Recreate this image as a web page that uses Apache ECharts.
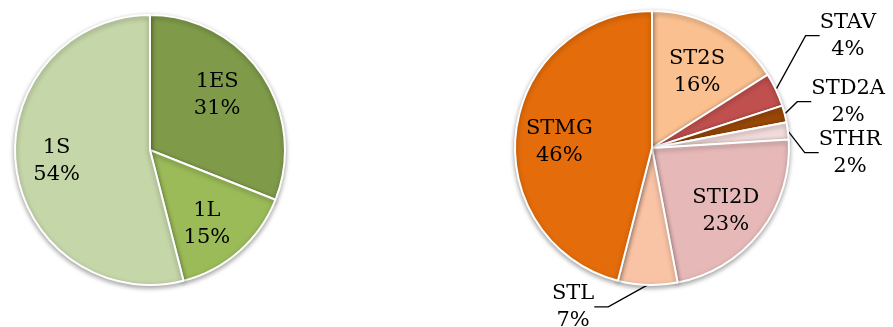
<!DOCTYPE html>
<html>
<head>
<meta charset="utf-8">
<script src="https://cdn.jsdelivr.net/npm/echarts@6/dist/echarts.min.js"></script>
<style>
  html, body { margin: 0; padding: 0; background: #fff; }
  #chart { width: 893px; height: 327px; }
</style>
</head>
<body>
<div id="chart"></div>
<script>
// Première (left) and technological series (right)
const leftCategories = ['1ES', '1L', '1S'];
const leftValues = [31, 15, 54];
const leftColors = ['#7f9b4a', '#9bbb59', '#c5d6a9'];

const rightCategories = ['ST2S', 'STAV', 'STD2A', 'STHR', 'STI2D', 'STL', 'STMG'];
const rightValues = [16, 4, 2, 2, 23, 7, 46];
const rightColors = ['#fac090', '#c0504d', '#984807', '#f2dcdb', '#e6b9b8', '#f9c4a6', '#e46c0a'];
// small slices get their label outside with a leader line
const rightOutside = ['STAV', 'STD2A', 'STHR', 'STL'];
// nudges [dx, dy] of the labels, to place them like the original
const outsideShift = { STAV: [12, -48], STD2A: [2, -32], STHR: [6, -31], STL: [-34, 8] };
const insideShift = { '1ES': [-9, -3], '1L': [-4, 5], '1S': [-2, 0] };

const FONT = 'DejaVu Serif';
const chart = echarts.init(document.getElementById('chart'));

const textStyle = {
  fontFamily: FONT,
  fontSize: 21,
  lineHeight: 27,
  color: '#000'
};

const mkData = (cats, vals, colors) =>
  cats.map((name, i) => ({ name, value: vals[i], itemStyle: { color: colors[i] } }));

const basePie = (center, r) => ({
  type: 'pie',
  center,
  radius: [0, r],
  startAngle: 90,
  clockwise: true,
  silent: true,
  animation: false,
  itemStyle: {
    borderColor: '#fff',
    borderWidth: 2,
    shadowBlur: 5,
    shadowColor: 'rgba(0,0,0,0.35)',
    shadowOffsetY: 2
  }
});

// transparent copy used only to place inside labels a bit further out than the middle
const labelPie = (center, r, cats, vals, hide, dy) => ({
  type: 'pie',
  center,
  radius: [r * 0.32, r],
  startAngle: 90,
  clockwise: true,
  silent: true,
  animation: false,
  itemStyle: { color: 'rgba(0,0,0,0)', borderWidth: 0 },
  label: {
    show: true,
    position: 'inside',
    formatter: '{a|{b}}\n{a|{c}%}',
    rich: { a: Object.assign({ align: 'center' }, textStyle) }
  },
  labelLine: { show: false },
  labelLayout: function (params) {
    const s = insideShift[cats[params.dataIndex]] || [0, 0];
    return { dx: s[0], dy: dy + s[1] };
  },
  data: cats.map((name, i) => ({
    name,
    value: vals[i],
    label: { show: hide.indexOf(name) < 0 }
  }))
});

const leftCenter = [150, 150];
const rightCenter = [652, 148];

chart.setOption({
  series: [
    Object.assign(basePie(leftCenter, 135), {
      label: { show: false },
      data: mkData(leftCategories, leftValues, leftColors)
    }),
    labelPie(leftCenter, 135, leftCategories, leftValues, [], 0),
    Object.assign(basePie(rightCenter, 137), {
      label: {
        show: true,
        position: 'outside',
        overflow: 'none',
        formatter: '{a|{b}}\n{a|{c}%}',
        rich: { a: Object.assign({ align: 'center' }, textStyle) }
      },
      labelLine: {
        show: true,
        length: 14,
        length2: 14,
        smooth: false,
        lineStyle: { color: '#000', width: 1.3 }
      },
      labelLayout: function (params) {
        const name = rightCategories[params.dataIndex];
        const s = outsideShift[name];
        if (!s) return {};
        const r = params.labelRect;
        const left = params.align === 'right' ? r.x + r.width : r.x;
        return { x: left + s[0], y: r.y + r.height / 2 + s[1] };
      },
      data: rightCategories.map((name, i) => ({
        name,
        value: rightValues[i],
        itemStyle: { color: rightColors[i] },
        label: { show: rightOutside.indexOf(name) >= 0 },
        labelLine: { show: rightOutside.indexOf(name) >= 0 }
      }))
    }),
    labelPie(rightCenter, 137, rightCategories, rightValues, rightOutside, 6)
  ]
});
</script>
</body>
</html>
